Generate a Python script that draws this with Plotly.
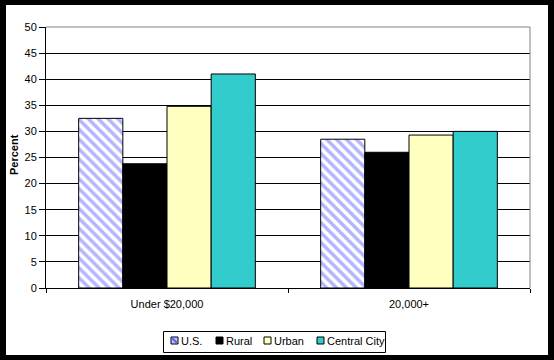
import plotly.graph_objects as go

categories = ["Under $20,000", "20,000+"]
series_names = ["U.S.", "Rural", "Urban", "Central City"]
us_values = [32.5, 28.5]
rural_values = [23.8, 26.0]
urban_values = [34.8, 29.3]
central_values = [41.0, 30.0]
y_ticks = [0, 5, 10, 15, 20, 25, 30, 35, 40, 45, 50]
series_colors = ["#8080FF", "#000000", "#FFFFC0", "#33CCCC"]

FONT = "Arial, Liberation Sans, sans-serif"

fig = go.Figure()
fig.add_trace(go.Bar(
    name=series_names[0], x=categories, y=us_values,
    marker=dict(color="white", line=dict(color="black", width=1),
                pattern=dict(shape="\\", fgcolor="#6A6AFF", bgcolor="white",
                             size=7, solidity=0.5, fillmode="overlay")),
))
for name, vals, col in zip(series_names[1:], [rural_values, urban_values, central_values], series_colors[1:]):
    fig.add_trace(go.Bar(
        name=name, x=categories, y=vals,
        marker=dict(color=col, line=dict(color="black", width=1)),
    ))

W, H = 554, 360
L, R, T, B = 46, 24, 27, 72
pw, ph = W - L - R, H - T - B

def px_x(p):
    return (p - L) / pw

def px_y(p):
    return (H - B - p) / ph

shapes = [
    dict(type="rect", xref="paper", yref="paper",
         x0=px_x(6), x1=px_x(548), y0=px_y(355), y1=px_y(5),
         fillcolor="white", line=dict(width=0), layer="below"),
    dict(type="line", xref="paper", yref="paper", x0=0, x1=1, y0=1, y1=1,
         line=dict(color="#808080", width=1), layer="above"),
    dict(type="line", xref="paper", yref="paper", x0=1, x1=1, y0=0, y1=1,
         line=dict(color="#808080", width=1), layer="above"),
    # legend box
    dict(type="rect", xref="paper", yref="paper",
         x0=px_x(163.5), x1=px_x(385.5), y0=px_y(352.5), y1=px_y(331.5),
         fillcolor="white", line=dict(color="black", width=1), layer="above"),
]
annotations = [
    dict(text="<b>Percent</b>", xref="paper", yref="paper",
         x=px_x(14), y=px_y(155), textangle=-90, showarrow=False,
         xanchor="center", yanchor="middle",
         font=dict(family=FONT, size=11, color="black")),
]

# manual compact legend
sw_x = [171, 216, 264, 317]
sw_size = 7
sw_top = 337
for i, (name, col) in enumerate(zip(series_names, series_colors)):
    x0 = sw_x[i]
    if i == 0:
        shapes.append(dict(type="rect", xref="paper", yref="paper",
                           x0=px_x(x0), x1=px_x(x0 + sw_size),
                           y0=px_y(sw_top + sw_size), y1=px_y(sw_top),
                           fillcolor="#C0C0FF", line=dict(color="black", width=1), layer="above"))
        shapes.append(dict(type="line", xref="paper", yref="paper",
                           x0=px_x(x0 + 1), x1=px_x(x0 + sw_size - 1),
                           y0=px_y(sw_top + 1), y1=px_y(sw_top + sw_size - 1),
                           line=dict(color="#6060FF", width=2), layer="above"))
    else:
        shapes.append(dict(type="rect", xref="paper", yref="paper",
                           x0=px_x(x0), x1=px_x(x0 + sw_size),
                           y0=px_y(sw_top + sw_size), y1=px_y(sw_top),
                           fillcolor=col, line=dict(color="black", width=1), layer="above"))
    annotations.append(dict(text=name, xref="paper", yref="paper",
                            x=px_x(x0 + sw_size + 1), y=px_y(sw_top + sw_size / 2 + 0.5),
                            xanchor="left", yanchor="middle", showarrow=False,
                            font=dict(family=FONT, size=11, color="black")))

fig.update_layout(
    width=W, height=H,
    margin=dict(l=L, r=R, t=T, b=B, pad=0, autoexpand=False),
    paper_bgcolor="black",
    plot_bgcolor="white",
    barmode="group",
    bargap=0.27,
    bargroupgap=0,
    font=dict(family=FONT, size=11, color="black"),
    showlegend=False,
    xaxis=dict(
        automargin=False,
        showline=True, linecolor="black", linewidth=1,
        ticks="outside", ticklen=4, tickcolor="black", tickson="boundaries",
        ticklabelstandoff=6,
        showgrid=False, tickfont=dict(family=FONT, size=11),
    ),
    yaxis=dict(
        automargin=False,
        range=[0, 50], tickvals=y_ticks,
        showline=True, linecolor="black", linewidth=1,
        ticks="outside", ticklen=6, tickcolor="black",
        showgrid=True, gridcolor="black", gridwidth=1,
        zeroline=False,
        tickfont=dict(family=FONT, size=11),
    ),
    shapes=shapes,
    annotations=annotations,
)

fig.write_html(
    "out.html",
    config={"displayModeBar": False},
    post_script="document.body.style.margin='0';document.body.style.overflow='hidden';",
)
